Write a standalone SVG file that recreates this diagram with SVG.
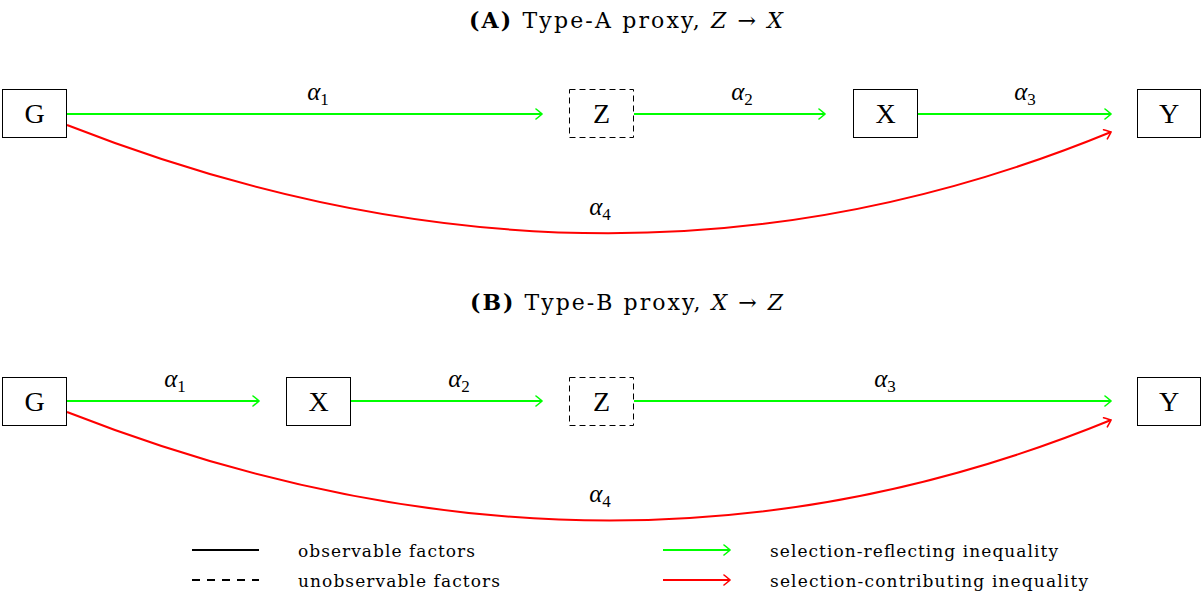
<svg xmlns="http://www.w3.org/2000/svg" width="1202" height="593" viewBox="0 0 1202 593">
  <style>
    .node rect { fill: #fff; stroke: #000; stroke-width: 1; }
    .node.hidden rect { stroke-dasharray: 6 4; }
    .node text { font-family: "Liberation Serif", "DejaVu Serif", serif; font-size: 28px; text-anchor: middle; }
    .title { font-family: "DejaVu Serif", "Liberation Serif", serif; font-size: 22px; }
    .lbl { font-family: "Liberation Serif", "DejaVu Serif", serif; font-size: 25px; font-style: italic; text-anchor: middle; }
    .lbl tspan.sub { font-size: 17px; font-style: normal; }
    .green { stroke: #00ff00; stroke-width: 2; fill: none; marker-end: url(#tipG); }
    .red { stroke: #ff0000; stroke-width: 2; fill: none; marker-end: url(#tipR); }
    .legend { font-family: "DejaVu Serif", "Liberation Serif", serif; font-size: 17px; }
  </style>
  <defs>
    <marker id="tipG" viewBox="-8 -6 10 12" markerWidth="10" markerHeight="12" refX="0" refY="0" orient="auto" markerUnits="userSpaceOnUse">
      <path d="M-6,-5 Q-1,-1 0,0 Q-1,1 -6,5" fill="none" stroke="#00ff00" stroke-width="1.6" stroke-linecap="round"/>
    </marker>
    <marker id="tipR" viewBox="-8 -6 10 12" markerWidth="10" markerHeight="12" refX="0" refY="0" orient="auto" markerUnits="userSpaceOnUse">
      <path d="M-6,-5 Q-1,-1 0,0 Q-1,1 -6,5" fill="none" stroke="#ff0000" stroke-width="1.6" stroke-linecap="round"/>
    </marker>
  </defs>

  <!-- Panel A: Type-A proxy -->
  <text class="title" x="469" y="28" textLength="314" lengthAdjust="spacing"><tspan font-weight="bold">(A)</tspan> Type-A proxy, <tspan font-style="italic">Z</tspan> → <tspan font-style="italic">X</tspan></text>

  <g id="connectors-a">
    <path class="green" d="M67,114 H542"/>
    <path class="green" d="M634,114 H825"/>
    <path class="green" d="M918,114 H1111"/>
    <path class="red" d="M67,125 Q610,338 1111,132"/>
    <text class="lbl" x="318" y="100">α<tspan class="sub" dy="5">1</tspan></text>
    <text class="lbl" x="742" y="100">α<tspan class="sub" dy="5">2</tspan></text>
    <text class="lbl" x="1025" y="100">α<tspan class="sub" dy="5">3</tspan></text>
    <text class="lbl" x="600" y="215">α<tspan class="sub" dy="5">4</tspan></text>
  </g>

  <g id="a-G" class="node"><rect x="2.5" y="89.5" width="64" height="48"/><text x="34.5" y="123">G</text></g>
  <g id="a-Z" class="node hidden"><rect x="569.5" y="89.5" width="64" height="48"/><text x="601.5" y="123">Z</text></g>
  <g id="a-X" class="node"><rect x="853.5" y="89.5" width="64" height="48"/><text x="885.5" y="123">X</text></g>
  <g id="a-Y" class="node"><rect x="1137.5" y="89.5" width="63" height="48"/><text x="1169" y="123">Y</text></g>

  <!-- Panel B: Type-B proxy -->
  <text class="title" x="470" y="310" textLength="313" lengthAdjust="spacing"><tspan font-weight="bold">(B)</tspan> Type-B proxy, <tspan font-style="italic">X</tspan> → <tspan font-style="italic">Z</tspan></text>

  <g id="connectors-b">
    <path class="green" d="M67,401 H259"/>
    <path class="green" d="M350,401 H542"/>
    <path class="green" d="M634,401 H1111"/>
    <path class="red" d="M67,412 Q610,625 1111,420"/>
    <text class="lbl" x="175" y="387">α<tspan class="sub" dy="5">1</tspan></text>
    <text class="lbl" x="459" y="387">α<tspan class="sub" dy="5">2</tspan></text>
    <text class="lbl" x="885" y="387">α<tspan class="sub" dy="5">3</tspan></text>
    <text class="lbl" x="600" y="502">α<tspan class="sub" dy="5">4</tspan></text>
  </g>

  <g id="b-G" class="node"><rect x="2.5" y="377.5" width="64" height="48"/><text x="34.5" y="411">G</text></g>
  <g id="b-X" class="node"><rect x="286.5" y="377.5" width="64" height="48"/><text x="318.5" y="411">X</text></g>
  <g id="b-Z" class="node hidden"><rect x="569.5" y="377.5" width="64" height="48"/><text x="601.5" y="411">Z</text></g>
  <g id="b-Y" class="node"><rect x="1137.5" y="377.5" width="63" height="48"/><text x="1169" y="411">Y</text></g>

  <!-- Legend -->
  <g id="legend">
    <line x1="192" y1="550" x2="259" y2="550" stroke="#000" stroke-width="2"/>
    <line x1="192" y1="580" x2="259" y2="580" stroke="#000" stroke-width="2" stroke-dasharray="8 7"/>
    <text class="legend" x="298" y="557" textLength="177" lengthAdjust="spacing">observable factors</text>
    <text class="legend" x="298" y="587" textLength="202" lengthAdjust="spacing">unobservable factors</text>
    <path class="green" d="M663,550 H730"/>
    <path class="red" d="M663,580 H730"/>
    <text class="legend" x="770" y="557" textLength="288" lengthAdjust="spacing">selection-reflecting inequality</text>
    <text class="legend" x="770" y="587" textLength="318" lengthAdjust="spacing">selection-contributing inequality</text>
  </g>
</svg>
